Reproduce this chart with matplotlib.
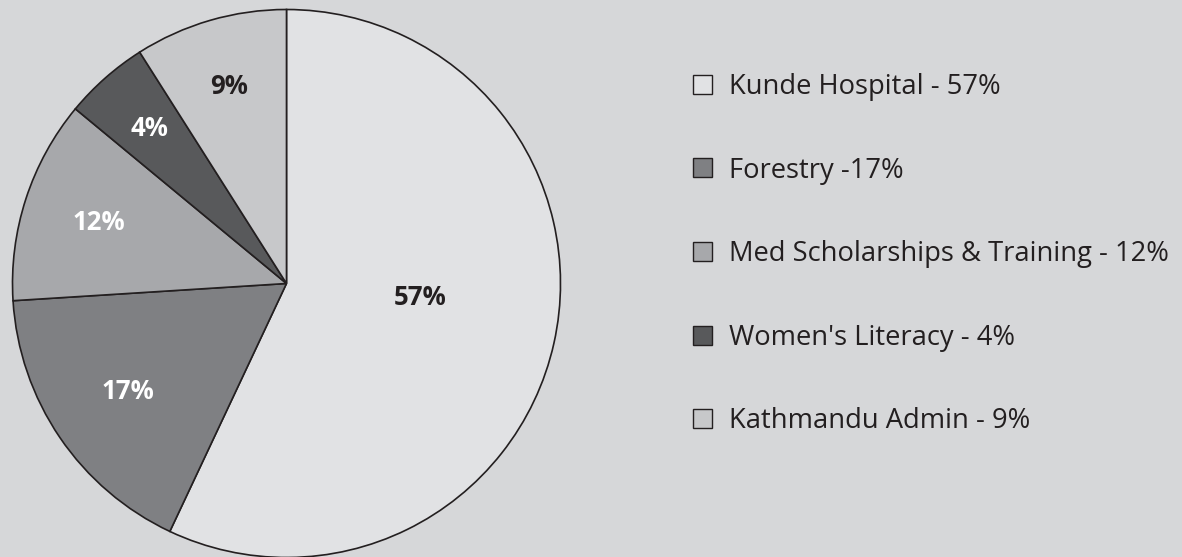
import matplotlib
matplotlib.use("Agg")
import matplotlib.pyplot as plt
import numpy as np

categories = ["Kunde Hospital", "Forestry", "Med Scholarships & Training",
              "Women's Literacy", "Kathmandu Admin"]
values = [57, 17, 12, 5, 9]
pct_labels = ["57%", "17%", "12%", "4%", "9%"]
legend_labels = ["Kunde Hospital - 57%", "Forestry -17%",
                 "Med Scholarships & Training - 12%", "Women's Literacy - 4%",
                 "Kathmandu Admin - 9%"]

colors = ["#e1e2e4", "#7f8083", "#a7a8ab", "#58595b", "#c7c8ca"]
label_colors = ["#231f20", "white", "white", "white", "#231f20"]
label_dist = [0.49, 0.70, 0.72, 0.755, 0.75]
label_shift = [6.4, 0, 0, 0, 0]  # degrees of rotation from bisector
bg = "#d6d7d9"
edge = "#231f20"

plt.rcParams['font.family'] = ['Open Sans', 'DejaVu Sans']

W, H = 1182, 557
fig = plt.figure(figsize=(W / 100, H / 100), dpi=100, facecolor=bg)
cx, cy, R = 286.5, 283.5, 274
ax = fig.add_axes([(cx - R) / W, (H - cy - R) / H, 2 * R / W, 2 * R / H])
ax.set_facecolor(bg)
wedges, _ = ax.pie(values, colors=colors, startangle=90, counterclock=False,
                   radius=1, wedgeprops=dict(edgecolor=edge, linewidth=1.2))
for w in wedges:
    w.set_clip_on(False)
for w, lab, c, d, s in zip(wedges, pct_labels, label_colors, label_dist, label_shift):
    ang = np.deg2rad((w.theta1 + w.theta2) / 2 + s)
    ax.text(d * np.cos(ang), d * np.sin(ang), lab, ha='center', va='center',
            color=c, fontsize=18.5, fontweight='bold')
ax.set_xlim(-1, 1)
ax.set_ylim(-1, 1)
ax.set_aspect('equal')
ax.axis('off')

leg = fig.legend(wedges, legend_labels, loc='upper left',
                 bbox_to_anchor=(693 / W, 1 - 73 / H), frameon=False,
                 fontsize=19.7, handlelength=0.69, handleheight=0.69,
                 handletextpad=0.62, labelspacing=2.03, labelcolor="#231f20",
                 borderaxespad=0, borderpad=0)
for h in leg.legend_handles:
    h.set_linewidth(1.0)
    h.set_edgecolor(edge)

fig.savefig("out.png", dpi=100, facecolor=bg)
